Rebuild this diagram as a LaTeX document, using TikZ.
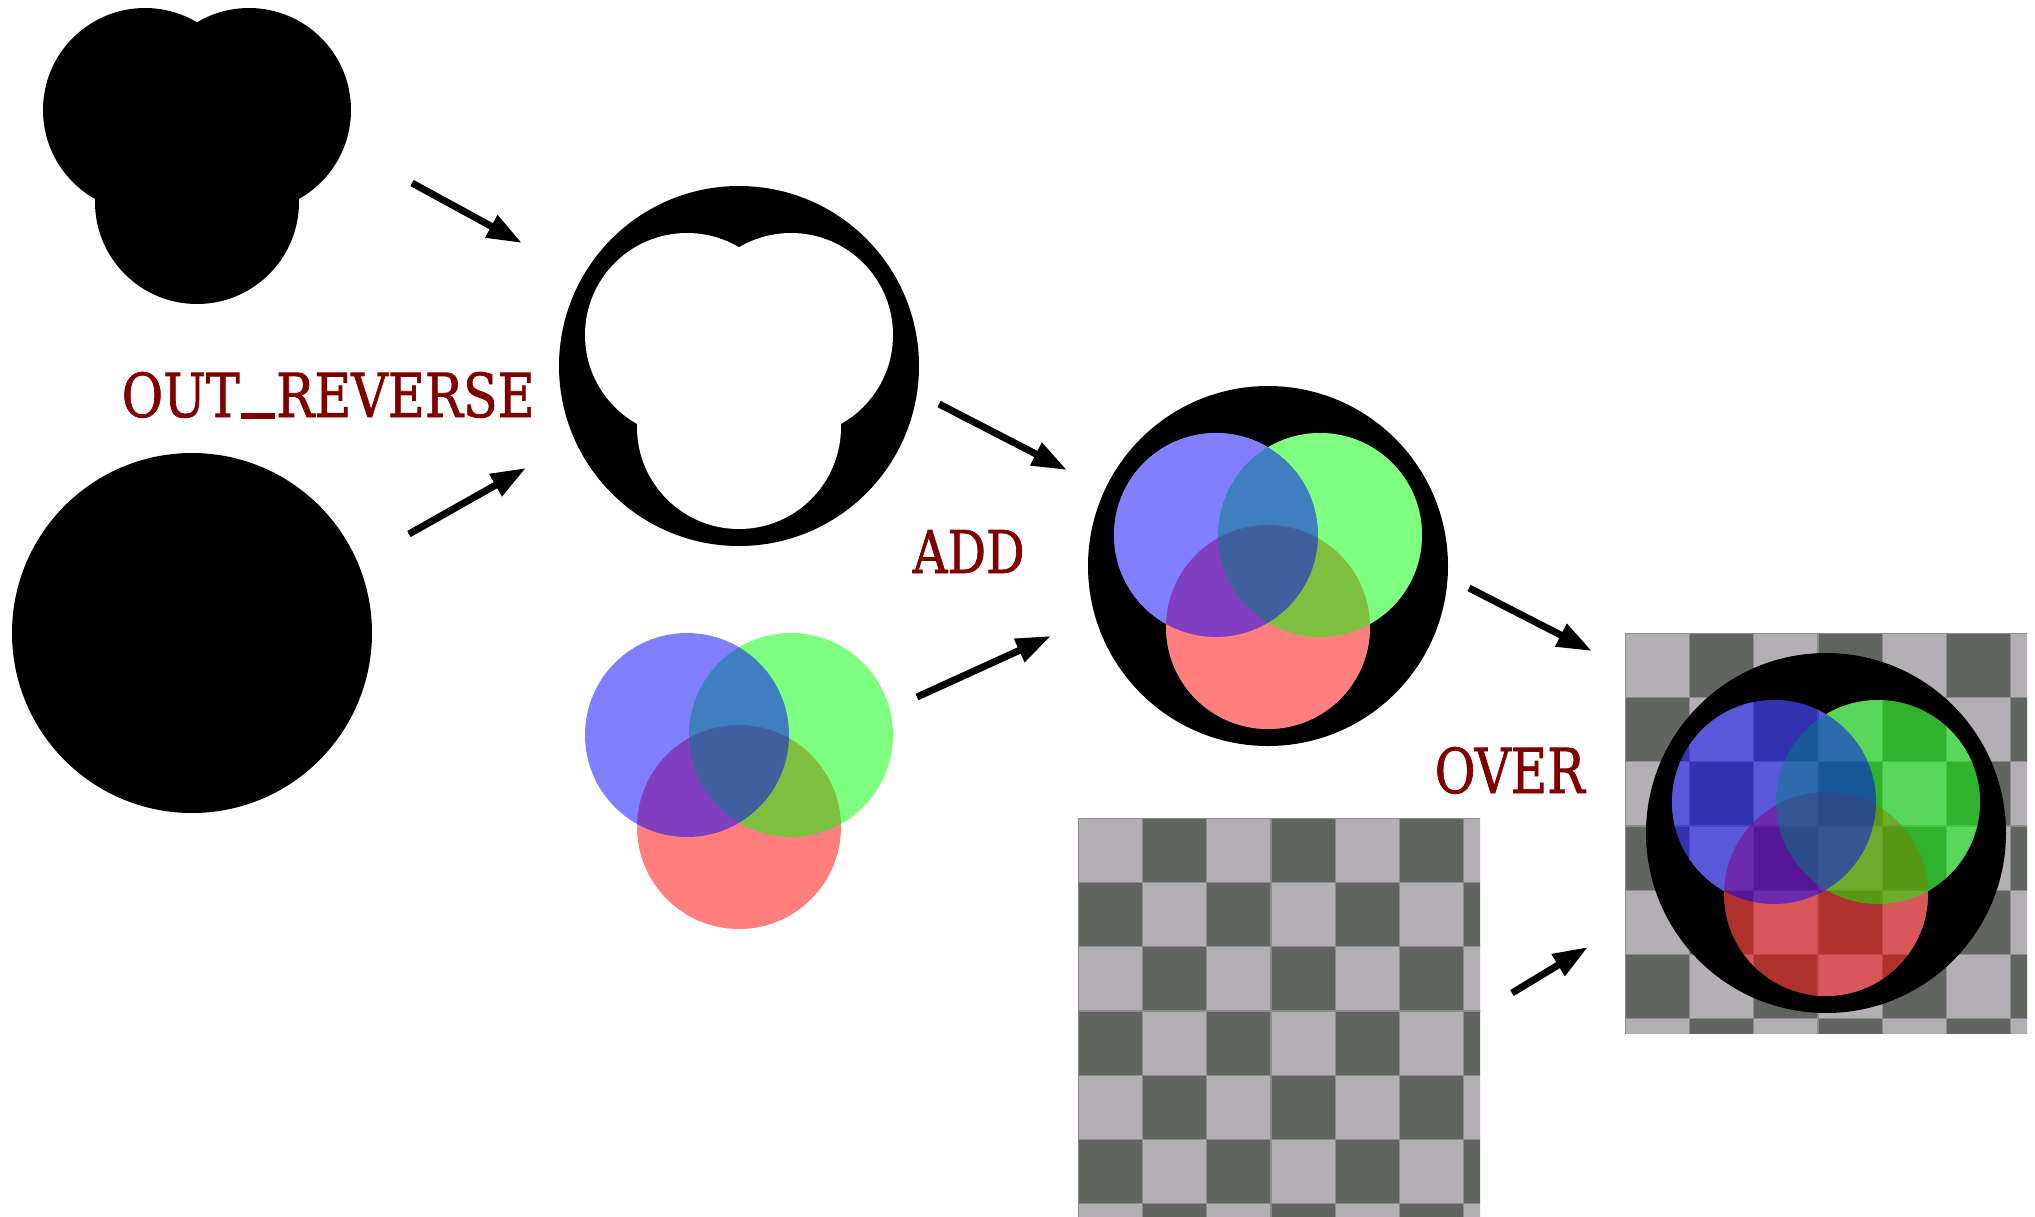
\documentclass[tikz,border=0pt]{standalone}
\usepackage{fontspec}
\usepackage{graphicx}
\setmainfont{DejaVu Serif}
\newfontfamily\lblfont{DejaVu Serif}[FakeBold=1.3]
\usetikzlibrary{arrows.meta}
\definecolor{lab}{RGB}{128,0,0}
\definecolor{chkL}{RGB}{180,175,181}
\definecolor{chkD}{RGB}{97,101,95}
\definecolor{chkG}{RGB}{140,140,142}
\tikzset{
  flow/.style={line width=0.7mm, -{Triangle[length=3.5mm,width=2.4mm]}},
  lbl/.style={text=lab, inner sep=0pt, anchor=base west, font=\lblfont},
  trefoil/.pic={
    \fill[pic actions] (-52,-31) circle[radius=10.2mm] (52,-31) circle[radius=10.2mm] (0,61) circle[radius=10.2mm];
  },
  venn/.pic={
    \fill[red, fill opacity=0.5] (0,61) circle[radius=10.2mm];
    \fill[green, fill opacity=0.5] (52,-31) circle[radius=10.2mm];
    \fill[blue, fill opacity=0.5] (-52,-31) circle[radius=10.2mm];
  },
  checker/.pic={
    \clip (0,0) rectangle (402,400);
    \foreach \i in {0,...,6}{
      \foreach \j in {0,...,6}{
        \pgfmathtruncatemacro{\chkpar}{mod(\i+\j,2)}
        \ifnum\chkpar=0
          \fill[chkL, draw=chkG, line width=0.12mm] ({\i*64.3},{\j*64.3}) rectangle ++(64.3,64.3);
        \else
          \fill[chkD, draw=chkG, line width=0.12mm] ({\i*64.3},{\j*64.3}) rectangle ++(64.3,64.3);
        \fi
      }
    }
  },
}
\begin{document}
\begin{tikzpicture}[x=0.1mm, y=-0.1mm]
\fill[white] (0,0) rectangle (2035,1216);
\useasboundingbox (0,0) rectangle (2035,1216);

% source blob (top left)
\pic[black] at (197,141) {trefoil};
% destination disc
\fill[black] (192,633) circle[radius=18mm];

% OUT_REVERSE result
\fill[black] (739,366) circle[radius=18mm];
\pic[white] at (739,366) {trefoil};

% Venn source
\pic at (739,766) {venn};

% ADD result
\fill[black] (1268,566) circle[radius=18mm];
\pic[white] at (1268,566) {trefoil};
\pic at (1268,566) {venn};

% checkerboard destination
\pic at (1078,818) {checker};

% OVER result
\pic at (1625,633) {checker};
\fill[black] (1826,833) circle[radius=18mm];
\begin{scope}
  \clip (1774,802) circle[radius=10.2mm] (1878,802) circle[radius=10.2mm] (1826,894) circle[radius=10.2mm];
  \pic at (1625,633) {checker};
\end{scope}
\pic at (1826,833) {venn};

% labels
\node[lbl] (outrev) at (121,417) {\resizebox{41.3mm}{4.5mm}{OUT\kern0.03em\rule[-0.03em]{0.66em}{0.09em}\kern0.03em REVERSE}};
\node[lbl] (add) at (912,573) {\resizebox{11.2mm}{4.3mm}{ADD}};
\node[lbl] (over) at (1434,793) {\resizebox{15.0mm}{4.6mm}{OVER}};

% arrows
\coordinate (a1s) at (412,183);  \coordinate (a1e) at (522,243);
\coordinate (a2s) at (409,534);  \coordinate (a2e) at (526,468);
\coordinate (a3s) at (939,404);  \coordinate (a3e) at (1067,470);
\coordinate (a4s) at (917,697);  \coordinate (a4e) at (1051,636);
\coordinate (a5s) at (1469,588); \coordinate (a5e) at (1592,651);
\coordinate (a6s) at (1512,993); \coordinate (a6e) at (1588,947);
\draw[flow] (a1s) -- (a1e);
\draw[flow] (a2s) -- (a2e);
\draw[flow] (a3s) -- (a3e);
\draw[flow] (a4s) -- (a4e);
\draw[flow] (a5s) -- (a5e);
\draw[flow] (a6s) -- (a6e);
\end{tikzpicture}
\end{document}
